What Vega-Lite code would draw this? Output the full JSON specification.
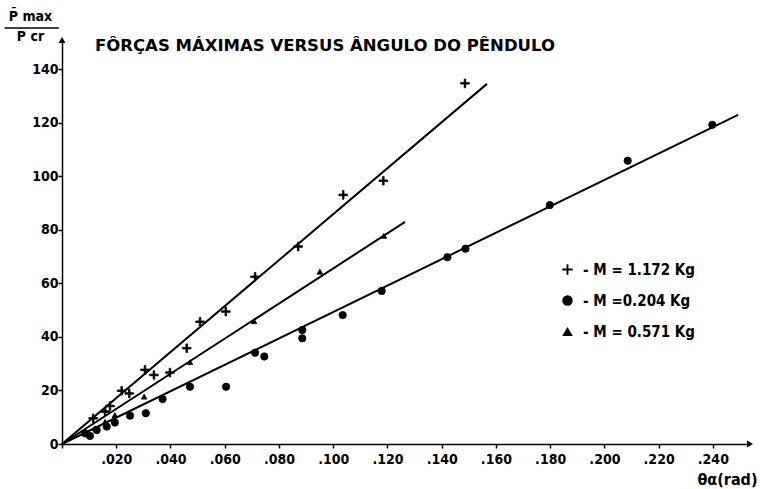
{
  "$schema": "https://vega.github.io/schema/vega-lite/v6.json",
  "autosize": {"type": "none"},
  "width": 688,
  "height": 404,
  "padding": {"left": 62, "top": 40, "right": 10, "bottom": 45},
  "background": "white",
  "config": {
    "view": {"stroke": null},
    "font": "DejaVu Sans Condensed, DejaVu Sans",
    "axis": {"domainColor": "black", "domainWidth": 1.5, "tickColor": "black", "tickWidth": 1.5, "tickSize": 4, "grid": false, "labelColor": "black", "labelFont": "DejaVu Sans Condensed, DejaVu Sans", "labelFontWeight": "bold", "labelFontSize": 14, "titleColor": "black", "titleFont": "DejaVu Sans Condensed, DejaVu Sans", "titleFontWeight": "bold"}
  },
  "title": {"text": "FÔRÇAS MÁXIMAS VERSUS ÂNGULO DO PÊNDULO", "anchor": "start", "frame": "group", "font": "DejaVu Sans", "fontSize": 16.5, "fontWeight": "bold", "color": "black", "offset": 0, "dx": 33, "dy": 45},
  "datasets": {
    "points": [
      {"theta": 0.0115, "ratio": 9.6, "mass": "M = 1.172 Kg"},
      {"theta": 0.0159, "ratio": 12.1, "mass": "M = 1.172 Kg"},
      {"theta": 0.0177, "ratio": 14.2, "mass": "M = 1.172 Kg"},
      {"theta": 0.022, "ratio": 19.9, "mass": "M = 1.172 Kg"},
      {"theta": 0.0248, "ratio": 18.9, "mass": "M = 1.172 Kg"},
      {"theta": 0.0306, "ratio": 27.7, "mass": "M = 1.172 Kg"},
      {"theta": 0.0339, "ratio": 25.8, "mass": "M = 1.172 Kg"},
      {"theta": 0.0398, "ratio": 26.7, "mass": "M = 1.172 Kg"},
      {"theta": 0.046, "ratio": 35.8, "mass": "M = 1.172 Kg"},
      {"theta": 0.0509, "ratio": 45.7, "mass": "M = 1.172 Kg"},
      {"theta": 0.0604, "ratio": 49.5, "mass": "M = 1.172 Kg"},
      {"theta": 0.0712, "ratio": 62.5, "mass": "M = 1.172 Kg"},
      {"theta": 0.0871, "ratio": 73.8, "mass": "M = 1.172 Kg"},
      {"theta": 0.1037, "ratio": 93.1, "mass": "M = 1.172 Kg"},
      {"theta": 0.1185, "ratio": 98.4, "mass": "M = 1.172 Kg"},
      {"theta": 0.1486, "ratio": 134.8, "mass": "M = 1.172 Kg"},
      {"theta": 0.0085, "ratio": 4.0, "mass": "M =0.204 Kg"},
      {"theta": 0.0103, "ratio": 3.0, "mass": "M =0.204 Kg"},
      {"theta": 0.0128, "ratio": 5.2, "mass": "M =0.204 Kg"},
      {"theta": 0.0165, "ratio": 6.5, "mass": "M =0.204 Kg"},
      {"theta": 0.0195, "ratio": 8.0, "mass": "M =0.204 Kg"},
      {"theta": 0.0251, "ratio": 10.6, "mass": "M =0.204 Kg"},
      {"theta": 0.0309, "ratio": 11.5, "mass": "M =0.204 Kg"},
      {"theta": 0.0371, "ratio": 16.8, "mass": "M =0.204 Kg"},
      {"theta": 0.0472, "ratio": 21.4, "mass": "M =0.204 Kg"},
      {"theta": 0.0605, "ratio": 21.4, "mass": "M =0.204 Kg"},
      {"theta": 0.0712, "ratio": 34.1, "mass": "M =0.204 Kg"},
      {"theta": 0.0746, "ratio": 32.7, "mass": "M =0.204 Kg"},
      {"theta": 0.0886, "ratio": 39.5, "mass": "M =0.204 Kg"},
      {"theta": 0.0886, "ratio": 42.6, "mass": "M =0.204 Kg"},
      {"theta": 0.1035, "ratio": 48.2, "mass": "M =0.204 Kg"},
      {"theta": 0.1179, "ratio": 57.2, "mass": "M =0.204 Kg"},
      {"theta": 0.1421, "ratio": 69.8, "mass": "M =0.204 Kg"},
      {"theta": 0.1488, "ratio": 73.0, "mass": "M =0.204 Kg"},
      {"theta": 0.1799, "ratio": 89.3, "mass": "M =0.204 Kg"},
      {"theta": 0.2086, "ratio": 105.9, "mass": "M =0.204 Kg"},
      {"theta": 0.2398, "ratio": 119.3, "mass": "M =0.204 Kg"},
      {"theta": 0.0122, "ratio": 5.9, "mass": "M = 0.571 Kg"},
      {"theta": 0.0159, "ratio": 8.3, "mass": "M = 0.571 Kg"},
      {"theta": 0.0195, "ratio": 10.8, "mass": "M = 0.571 Kg"},
      {"theta": 0.0303, "ratio": 17.7, "mass": "M = 0.571 Kg"},
      {"theta": 0.0472, "ratio": 30.6, "mass": "M = 0.571 Kg"},
      {"theta": 0.0708, "ratio": 45.9, "mass": "M = 0.571 Kg"},
      {"theta": 0.0951, "ratio": 64.4, "mass": "M = 0.571 Kg"},
      {"theta": 0.1187, "ratio": 77.8, "mass": "M = 0.571 Kg"}
    ],
    "fits": [
      {"theta": 0, "ratio": 0, "mass": "M = 1.172 Kg"},
      {"theta": 0.1567, "ratio": 134.6, "mass": "M = 1.172 Kg"},
      {"theta": 0, "ratio": 0, "mass": "M =0.204 Kg"},
      {"theta": 0.2493, "ratio": 123.0, "mass": "M =0.204 Kg"},
      {"theta": 0, "ratio": 0, "mass": "M = 0.571 Kg"},
      {"theta": 0.1265, "ratio": 83.0, "mass": "M = 0.571 Kg"}
    ],
    "arrows": [
      {"theta": 0.2537, "ratio": 0, "dir": "triangle-right"},
      {"theta": 0, "ratio": 151, "dir": "triangle-up"}
    ],
    "bar": [
      {"theta": -0.0212, "theta2": -0.0012, "ratio": 155.5}
    ]
  },
  "layer": [
    {
      "data": {"name": "fits"},
      "mark": {"type": "line", "color": "black", "strokeWidth": 2},
      "encoding": {
        "x": {"field": "theta", "type": "quantitative", "scale": {"domain": [0, 0.2537], "nice": false, "zero": false},
          "axis": {"values": [0, 0.01, 0.02, 0.03, 0.04, 0.05, 0.06, 0.07, 0.08, 0.09, 0.1, 0.11, 0.12, 0.13, 0.14, 0.15, 0.16, 0.17, 0.18, 0.19, 0.2, 0.21, 0.22, 0.23, 0.24, 0.25],
            "labelExpr": "(round(datum.value*1000) % 20 == 0 && datum.value > 0) ? replace(format(datum.value, '.3f'), '0.', '.') : ''",
            "title": "θα(rad)", "titleFontSize": 16, "titleAnchor": "end", "titleAlign": "right", "titleBaseline": "top", "titleX": 695, "titleY": 27, "labelPadding": 4}},
        "y": {"field": "ratio", "type": "quantitative", "scale": {"domain": [0, 151], "nice": false},
          "axis": {"values": [0, 10, 20, 30, 40, 50, 60, 70, 80, 90, 100, 110, 120, 130, 140],
            "labelExpr": "datum.value % 20 == 0 ? datum.label : ''", "labelPadding": 0,
            "title": ["P̄ max", "P cr"], "titleAngle": 0, "titleFontSize": 14, "titleAlign": "center", "titleBaseline": "bottom", "titleX": -32, "titleY": -17, "titleLineHeight": 20}},
        "detail": {"field": "mass"}
      }
    },
    {
      "data": {"name": "points"},
      "mark": {"type": "point", "filled": true, "fill": "black", "stroke": "black", "strokeWidth": 0.8, "opacity": 1},
      "encoding": {
        "x": {"field": "theta", "type": "quantitative"},
        "y": {"field": "ratio", "type": "quantitative"},
        "shape": {"field": "mass", "type": "nominal",
          "scale": {"domain": ["M = 1.172 Kg", "M =0.204 Kg", "M = 0.571 Kg"], "range": ["M-1,-0.18H1V0.18H-1ZM-0.18,-1H0.18V1H-0.18Z", "circle", "triangle-up"]},
          "legend": {"orient": "none", "legendX": 498, "legendY": 222, "title": null, "labelExpr": "'- ' + datum.label", "labelFontSize": 15, "labelFontWeight": "bold", "labelColor": "black", "labelFont": "DejaVu Sans Condensed, DejaVu Sans", "symbolSize": 110, "symbolFillColor": "black", "symbolStrokeColor": "black", "symbolStrokeWidth": 0.8, "symbolOpacity": 1, "rowPadding": 15, "labelOffset": 8}},
        "size": {"field": "mass", "type": "nominal", "scale": {"domain": ["M = 1.172 Kg", "M =0.204 Kg", "M = 0.571 Kg"], "range": [75, 32, 100]}, "legend": null}
      }
    },
    {
      "data": {"name": "arrows"},
      "mark": {"type": "point", "filled": true, "color": "black", "size": 50, "opacity": 1},
      "encoding": {
        "x": {"field": "theta", "type": "quantitative"},
        "y": {"field": "ratio", "type": "quantitative"},
        "shape": {"field": "dir", "type": "nominal", "scale": {"domain": ["triangle-right", "triangle-up"], "range": ["triangle-right", "triangle-up"]}, "legend": null}
      }
    },
    {
      "data": {"name": "bar"},
      "mark": {"type": "rule", "color": "black", "strokeWidth": 1.5},
      "encoding": {
        "x": {"field": "theta", "type": "quantitative"},
        "x2": {"field": "theta2"},
        "y": {"field": "ratio", "type": "quantitative"}
      }
    }
  ],
  "resolve": {"scale": {"shape": "independent"}}
}
